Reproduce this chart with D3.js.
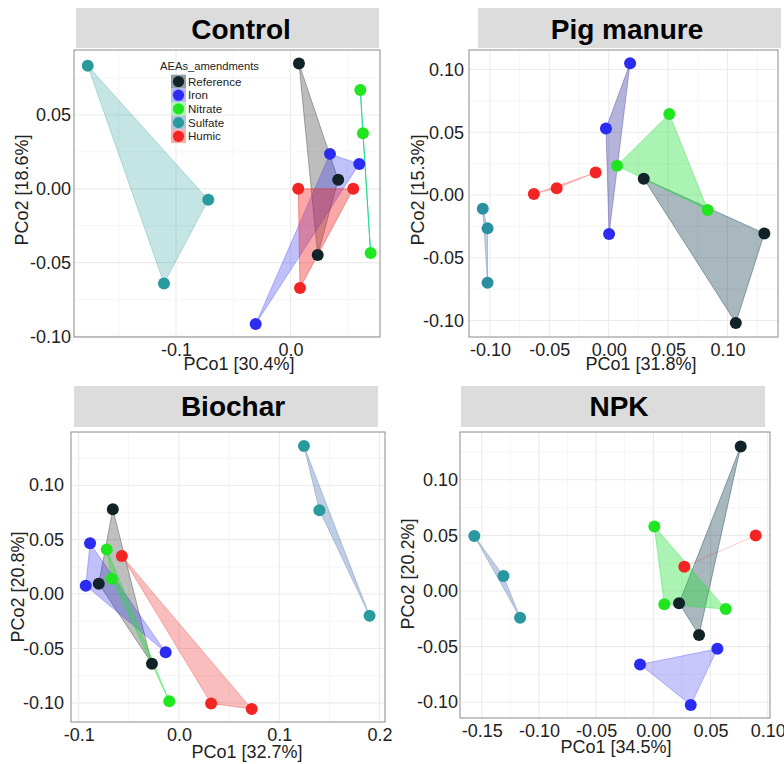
<!DOCTYPE html>
<html>
<head>
<meta charset="utf-8">
<script src="https://cdn.jsdelivr.net/npm/d3@7"></script>
<style>
  html, body { margin: 0; background: #fff; }
  svg { display: block; font-family: "Liberation Sans", Arial, sans-serif; }
</style>
</head>
<body>
<svg id="chart" width="784" height="764"></svg>
<script>
// ---- Data -------------------------------------------------------------
const panels = ["Control", "Pig manure", "Biochar", "NPK"];
const groups = ["Reference", "Iron", "Nitrate", "Sulfate", "Humic"];
const pco1Pct = ["30.4", "31.8", "32.7", "34.5"];
const pco2Pct = ["18.6", "15.3", "20.8", "20.2"];

// PCoA scores per sample: [group, PCo1, PCo2]
const controlScores = [
  ["Reference", 0.0074, 0.0850], ["Reference", 0.0417, 0.0061], ["Reference", 0.0238, -0.0449],
  ["Iron", 0.0345, 0.0237], ["Iron", 0.0601, 0.0169], ["Iron", -0.0304, -0.0916],
  ["Nitrate", 0.0610, 0.0670], ["Nitrate", 0.0633, 0.0377], ["Nitrate", 0.0700, -0.0435],
  ["Sulfate", -0.1771, 0.0834], ["Sulfate", -0.0718, -0.0074], ["Sulfate", -0.1105, -0.0641],
  ["Humic", 0.0068, 0.0000], ["Humic", 0.0548, 0.0000], ["Humic", 0.0083, -0.0672]
];
const pigScores = [
  ["Reference", 0.0295, 0.0130], ["Reference", 0.1310, -0.0306], ["Reference", 0.1070, -0.1020],
  ["Iron", 0.0180, 0.1050], ["Iron", -0.0023, 0.0530], ["Iron", 0.0003, -0.0310],
  ["Nitrate", 0.0510, 0.0646], ["Nitrate", 0.0070, 0.0234], ["Nitrate", 0.0833, -0.0120],
  ["Sulfate", -0.1060, -0.0110], ["Sulfate", -0.1020, -0.0266], ["Sulfate", -0.1020, -0.0700],
  ["Humic", -0.0630, 0.0008], ["Humic", -0.0438, 0.0053], ["Humic", -0.0110, 0.0180]
];
const biocharScores = [
  ["Reference", -0.0660, 0.0780], ["Reference", -0.0800, 0.0095], ["Reference", -0.0270, -0.0640],
  ["Iron", -0.0887, 0.0466], ["Iron", -0.0930, 0.0077], ["Iron", -0.0133, -0.0536],
  ["Nitrate", -0.0720, 0.0410], ["Nitrate", -0.0670, 0.0140], ["Nitrate", -0.0097, -0.0986],
  ["Sulfate", 0.1246, 0.1360], ["Sulfate", 0.1400, 0.0770], ["Sulfate", 0.1900, -0.0200],
  ["Humic", -0.0570, 0.0350], ["Humic", 0.0320, -0.1005], ["Humic", 0.0725, -0.1057]
];
const npkScores = [
  ["Reference", 0.0764, 0.1300], ["Reference", 0.0225, -0.0110], ["Reference", 0.0400, -0.0396],
  ["Iron", -0.0116, -0.0660], ["Iron", 0.0560, -0.0520], ["Iron", 0.0327, -0.1025],
  ["Nitrate", 0.0009, 0.0580], ["Nitrate", 0.0096, -0.0120], ["Nitrate", 0.0633, -0.0162],
  ["Sulfate", -0.1565, 0.0495], ["Sulfate", -0.1310, 0.0135], ["Sulfate", -0.1165, -0.0240],
  ["Humic", 0.0271, 0.0219], ["Humic", 0.0895, 0.0500]
];
const scores = [controlScores, pigScores, biocharScores, npkScores];

// Axis breaks and their labels
const xTicks = [[-0.1, 0.0], [-0.10, -0.05, 0.00, 0.05, 0.10], [-0.1, 0.0, 0.1, 0.2], [-0.15, -0.10, -0.05, 0.00, 0.05, 0.10]];
const xTickLabels = [["-0.1", "0.0"], ["-0.10", "-0.05", "0.00", "0.05", "0.10"], ["-0.1", "0.0", "0.1", "0.2"], ["-0.15", "-0.10", "-0.05", "0.00", "0.05", "0.10"]];
const yTicks = [[-0.10, -0.05, 0.00, 0.05], [-0.10, -0.05, 0.00, 0.05, 0.10], [-0.10, -0.05, 0.00, 0.05, 0.10], [-0.10, -0.05, 0.00, 0.05, 0.10]];
const yTickLabels = [["-0.10", "-0.05", "0.00", "0.05"], ["-0.10", "-0.05", "0.00", "0.05", "0.10"], ["-0.10", "-0.05", "0.00", "0.05", "0.10"], ["-0.10", "-0.05", "0.00", "0.05", "0.10"]];

// ---- Layout -----------------------------------------------------------
const layout = [
  { box: [74, 50, 380, 337], xDom: [-0.1891, 0.0782], yDom: [-0.1004, 0.0941], strip: [76, 8, 379, 48], stripX: 241, stripBase: 38.5,
    yPad: 3, xTitle: [239, 370], yTitle: [28, 190] },
  { box: [469, 50, 778, 337], xDom: [-0.1176, 0.1425], yDom: [-0.1132, 0.1156], strip: [478, 8, 781, 48], stripX: 627, stripBase: 38.5,
    yPad: 5, xTitle: [641, 370], yTitle: [424, 190] },
  { box: [71, 432, 385, 722], xDom: [-0.1077, 0.2054], yDom: [-0.1176, 0.1489], strip: [74, 386, 378, 427], stripX: 233, stripBase: 416,
    yPad: 7, xTitle: [247, 758], yTitle: [24, 587] },
  { box: [460, 432, 770, 718], xDom: [-0.1690, 0.1020], yDom: [-0.1142, 0.1430], strip: [461, 386, 765, 427], stripX: 619, stripBase: 416,
    yPad: 2, xTitle: [616, 753], yTitle: [414, 574] }
];

// ---- Styles -----------------------------------------------------------
const pointColor = { Reference: "#112327", Iron: "#2b2bf2", Nitrate: "#1fe61f", Sulfate: "#2a9b9c", Humic: "#f22424" };
const pointColorPanel = [{}, { Sulfate: "#2a8fa0" }, {}, { Sulfate: "#2a96a0" }];
// hull [colour, fill opacity, outline opacity] per panel
const hullStyle = [
  { Reference: ["#000000", 0.26, 0.3], Iron: ["#2f2ff2", 0.3, 0.3], Nitrate: ["#18d890", 0.5, 0.8], Sulfate: ["#2a9d9d", 0.27, 0.3], Humic: ["#f02424", 0.4, 0.4] },
  { Reference: ["#10394a", 0.36, 0.4], Iron: ["#2e2e98", 0.36, 0.36], Nitrate: ["#22e036", 0.38, 0.4], Sulfate: ["#4a72b0", 0.35, 0.35], Humic: ["#f02424", 0.3, 0.22] },
  { Reference: ["#000000", 0.25, 0.3], Iron: ["#2f2ff2", 0.3, 0.3], Nitrate: ["#22e036", 0.4, 0.45], Sulfate: ["#4a72b0", 0.35, 0.35], Humic: ["#f02424", 0.3, 0.3] },
  { Reference: ["#10394a", 0.36, 0.4], Iron: ["#2f2ff2", 0.27, 0.3], Nitrate: ["#22e036", 0.38, 0.4], Sulfate: ["#4a72b0", 0.35, 0.35], Humic: ["#f02424", 0.3, 0.12] }
];
const legendKeyBg = { Reference: ["#10394a", 0.48], Iron: ["#2f2ff2", 0.35], Nitrate: ["#22e036", 0.35], Sulfate: ["#4a72b0", 0.42], Humic: ["#f02424", 0.38] };

const svg = d3.select("#chart");
const textCol = "#222";

panels.forEach((name, i) => {
  const L = layout[i];
  const [x0, y0, x1, y1] = L.box;
  const x = d3.scaleLinear().domain(L.xDom).range([x0, x1]);
  const y = d3.scaleLinear().domain(L.yDom).range([y1, y0]);
  const g = svg.append("g");

  // facet strip
  g.append("rect").attr("x", L.strip[0]).attr("y", L.strip[1])
    .attr("width", L.strip[2] - L.strip[0]).attr("height", L.strip[3] - L.strip[1])
    .attr("fill", "#dcdcdc");
  g.append("text").attr("x", L.stripX).attr("y", L.stripBase)
    .attr("text-anchor", "middle").attr("font-size", 28).attr("font-weight", "bold")
    .attr("fill", "#000").text(name);

  // panel background
  g.append("rect").attr("x", x0).attr("y", y0).attr("width", x1 - x0).attr("height", y1 - y0).attr("fill", "#fff");

  // minor grid lines halfway between breaks
  const minor = (ticks, dom) => {
    const step = ticks[1] - ticks[0];
    const out = [];
    for (let t = ticks[0] - step / 2; t <= dom[1]; t += step) if (t >= dom[0]) out.push(t);
    return out;
  };
  const grid = g.append("g");
  minor(xTicks[i], L.xDom).forEach(v => grid.append("line").attr("x1", x(v)).attr("x2", x(v)).attr("y1", y0).attr("y2", y1)
    .attr("stroke", "#f3f3f3").attr("stroke-width", 0.8));
  minor(yTicks[i], L.yDom).forEach(v => grid.append("line").attr("y1", y(v)).attr("y2", y(v)).attr("x1", x0).attr("x2", x1)
    .attr("stroke", "#f3f3f3").attr("stroke-width", 0.8));
  xTicks[i].forEach(v => grid.append("line").attr("x1", x(v)).attr("x2", x(v)).attr("y1", y0).attr("y2", y1)
    .attr("stroke", "#ebebeb").attr("stroke-width", 1.1));
  yTicks[i].forEach(v => grid.append("line").attr("y1", y(v)).attr("y2", y(v)).attr("x1", x0).attr("x2", x1)
    .attr("stroke", "#ebebeb").attr("stroke-width", 1.1));

  // convex hulls per group
  const line = d3.line().curve(d3.curveLinearClosed);
  groups.forEach(grp => {
    const pts = scores[i].filter(d => d[0] === grp).map(d => [x(d[1]), y(d[2])]);
    if (!pts.length) return;
    const poly = pts.length >= 3 ? (d3.polygonHull(pts) || pts) : pts;
    const [col, op, sop] = hullStyle[i][grp];
    g.append("path").attr("d", line(poly))
      .attr("fill", col).attr("fill-opacity", op)
      .attr("stroke", col).attr("stroke-opacity", sop).attr("stroke-width", 1)
      .attr("stroke-linejoin", "round");
  });

  // sample points
  groups.forEach(grp => {
    const col = pointColorPanel[i][grp] || pointColor[grp];
    g.selectAll(null).data(scores[i].filter(d => d[0] === grp)).enter().append("circle")
      .attr("cx", d => x(d[1])).attr("cy", d => y(d[2])).attr("r", 6)
      .attr("fill", col);
  });

  // panel border
  g.append("rect").attr("x", x0).attr("y", y0).attr("width", x1 - x0).attr("height", y1 - y0)
    .attr("fill", "none").attr("stroke", "#8a8a8a").attr("stroke-width", 1);

  // axes
  const xa = g.append("g").attr("transform", `translate(0,${y1})`)
    .call(d3.axisBottom(x).tickValues(xTicks[i]).tickFormat((d, j) => xTickLabels[i][j]).tickSize(0).tickPadding(6));
  const ya = g.append("g").attr("transform", `translate(${x0},0)`)
    .call(d3.axisLeft(y).tickValues(yTicks[i]).tickFormat((d, j) => yTickLabels[i][j]).tickSize(0).tickPadding(L.yPad));
  [xa, ya].forEach(a => {
    a.select(".domain").remove();
    a.attr("font-family", null);
    a.selectAll("text").attr("font-size", 18).attr("fill", textCol);
  });

  // axis titles
  g.append("text").attr("x", L.xTitle[0]).attr("y", L.xTitle[1]).attr("text-anchor", "middle")
    .attr("font-size", 18).attr("fill", textCol).text(`PCo1 [${pco1Pct[i]}%]`);
  g.append("text").attr("transform", `translate(${L.yTitle[0]},${L.yTitle[1]}) rotate(-90)`)
    .attr("text-anchor", "middle").attr("font-size", 18).attr("fill", textCol).text(`PCo2 [${pco2Pct[i]}%]`);
});

// legend inside the Control panel
const lg = svg.append("g");
lg.append("text").attr("x", 160).attr("y", 70).attr("font-size", 11.2).attr("fill", textCol).text("AEAs_amendments");
groups.forEach((grp, k) => {
  const cy = 81.5 + k * 13.7;
  const [bg, op] = legendKeyBg[grp];
  lg.append("rect").attr("x", 171).attr("y", cy - 6.8).attr("width", 15).attr("height", 13.6)
    .attr("fill", bg).attr("fill-opacity", op);
  lg.append("circle").attr("cx", 178.5).attr("cy", cy).attr("r", 5.6).attr("fill", pointColor[grp]);
  lg.append("text").attr("x", 188).attr("y", cy + 4).attr("font-size", 11.6).attr("fill", textCol).text(grp);
});
</script>
</body>
</html>
